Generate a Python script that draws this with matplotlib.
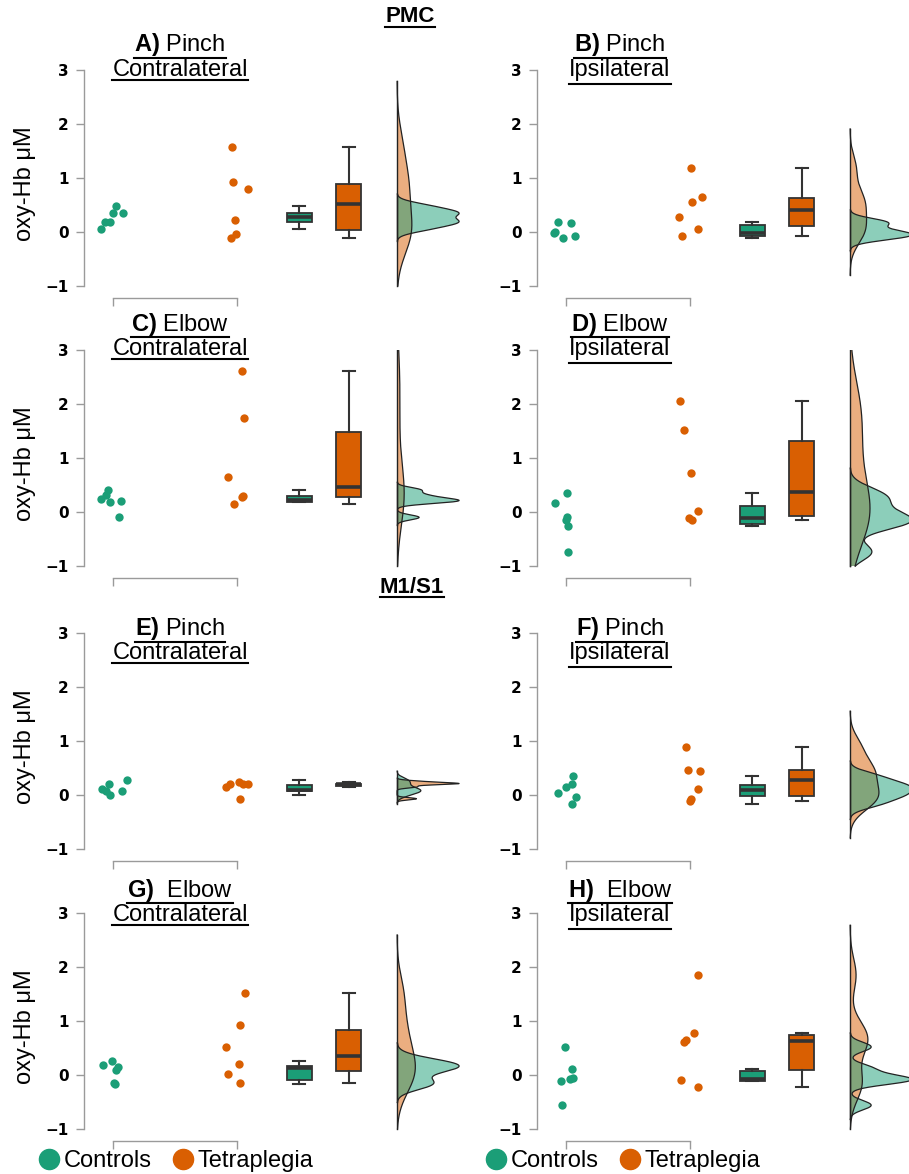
import numpy as np
import matplotlib
matplotlib.use("Agg")
import matplotlib.pyplot as plt
from matplotlib.lines import Line2D

plt.rcParams['mathtext.fontset'] = 'custom'
plt.rcParams['mathtext.bf'] = 'Liberation Sans:bold'
plt.rcParams['mathtext.rm'] = 'Liberation Sans'

GREEN = '#1b9e77'
ORANGE = '#d95f02'
EDGE = '#333333'

# --- data (oxy-Hb, µM); *_jit = horizontal jitter of the dots ---
ctrl_A = [0.06, 0.19, 0.19, 0.35, 0.48, 0.35]
ctrl_A_jit = [-0.094, -0.062, -0.027, -0.005, 0.027, 0.081]
tetra_A = [1.57, 0.93, 0.80, 0.22, -0.03, -0.12]
tetra_A_jit = [-0.038, -0.030, 0.091, -0.016, -0.011, -0.051]

ctrl_B = [0.18, 0.17, -0.02, -0.11, -0.08, 0.00]
ctrl_B_jit = [-0.068, 0.043, -0.095, -0.024, 0.070, -0.090]
tetra_B = [1.18, 0.65, 0.55, 0.28, 0.05, -0.07]
tetra_B_jit = [0.008, 0.092, 0.011, -0.087, 0.062, -0.065]

ctrl_C = [0.41, 0.31, 0.24, 0.19, 0.20, -0.10]
ctrl_C_jit = [-0.038, -0.056, -0.097, -0.022, 0.065, 0.046]
tetra_C = [2.61, 1.75, 0.64, 0.30, 0.27, 0.15]
tetra_C_jit = [0.038, 0.056, -0.070, 0.051, 0.043, -0.024]

ctrl_D = [0.17, 0.35, -0.09, -0.15, -0.25, -0.74]
ctrl_D_jit = [-0.090, 0.003, 0.005, 0.000, 0.019, 0.016]
tetra_D = [2.05, 1.51, 0.73, 0.02, -0.11, -0.14]
tetra_D_jit = [-0.085, -0.050, 0.008, 0.061, -0.011, 0.011]

ctrl_E = [0.28, 0.21, 0.12, 0.07, 0.00, 0.08]
ctrl_E_jit = [0.108, -0.035, -0.086, -0.054, -0.027, 0.073]
tetra_E = [0.15, 0.21, 0.25, 0.21, 0.21, -0.07]
tetra_E_jit = [-0.089, -0.059, 0.013, 0.046, 0.086, 0.027]

ctrl_F = [0.35, 0.20, 0.15, 0.04, -0.03, -0.17]
ctrl_F_jit = [0.059, 0.045, 0.000, -0.067, 0.083, 0.045]
tetra_F = [0.88, 0.46, 0.44, 0.12, -0.07, -0.12]
tetra_F_jit = [-0.035, -0.019, 0.083, 0.067, 0.008, -0.005]

ctrl_G = [0.18, 0.26, 0.15, 0.10, -0.17, -0.15]
ctrl_G_jit = [-0.080, -0.013, 0.040, 0.021, 0.019, 0.010]
tetra_G = [1.52, 0.93, 0.52, 0.20, 0.02, -0.14]
tetra_G_jit = [0.067, 0.027, -0.088, 0.013, -0.075, 0.021]

ctrl_H = [0.52, 0.12, -0.12, -0.08, -0.06, -0.56]
ctrl_H_jit = [-0.013, 0.048, -0.045, 0.035, 0.056, -0.037]
tetra_H = [1.85, 0.77, 0.65, 0.61, -0.09, -0.22]
tetra_H_jit = [0.061, 0.032, -0.032, -0.053, -0.072, 0.067]

title_top = ['A) Pinch', 'B) Pinch', 'C) Elbow', 'D) Elbow',
             'E) Pinch', 'F) Pinch', 'G)  Elbow', 'H)  Elbow']
title_bottom = ['Contralateral', 'Ipsilateral'] * 4
groups = ['Controls', 'Tetraplegia']
yticks = [-1, 0, 1, 2, 3]

panels = [
    (ctrl_A, ctrl_A_jit, tetra_A, tetra_A_jit),
    (ctrl_B, ctrl_B_jit, tetra_B, tetra_B_jit),
    (ctrl_C, ctrl_C_jit, tetra_C, tetra_C_jit),
    (ctrl_D, ctrl_D_jit, tetra_D, tetra_D_jit),
    (ctrl_E, ctrl_E_jit, tetra_E, tetra_E_jit),
    (ctrl_F, ctrl_F_jit, tetra_F, tetra_F_jit),
    (ctrl_G, ctrl_G_jit, tetra_G, tetra_G_jit),
    (ctrl_H, ctrl_H_jit, tetra_H, tetra_H_jit),
]

# --- layout (pixels of a 909x1174 figure) ---
FW, FH = 909, 1174
col_spine_px = [84, 537]
row_top_px = [70, 350, 633, 913]      # where y = 3 sits
title_x_px = [180, 620]
title_y_px = [(45, 70), (325, 349), (629, 653), (890, 915)]
XPX = 124      # px per x unit
YPX = 54       # px per y unit
XMIN, XMAX = 0.765, 3.95
YMIN, YMAX = -1.22, 3.0
BOX_POS = [2.5, 2.9]
VIOLIN_X = 3.29
VIOLIN_W = 0.5


def bw_nrd0(x):
    x = np.asarray(x)
    sd = np.std(x, ddof=1)
    q75, q25 = np.percentile(x, [75, 25])
    lo = min(sd, (q75 - q25) / 1.34)
    if lo <= 0:
        lo = sd
    return 0.9 * lo * len(x) ** -0.2


def kde(x):
    x = np.asarray(x)
    bw = bw_nrd0(x)
    g = np.linspace(max(x.min() - 3 * bw, -1), min(x.max() + 3 * bw, 3), 500)
    d = np.exp(-0.5 * ((g[:, None] - x[None, :]) / bw) ** 2).sum(axis=1)
    d = d / (len(x) * bw * np.sqrt(2 * np.pi))
    return g, d


def fig_xy(px, py):
    return px / FW, 1 - py / FH


fig = plt.figure(figsize=(FW / 100, FH / 100), dpi=100)
title_texts = []

for i, (ctrl, ctrl_jit, tetra, tetra_jit) in enumerate(panels):
    row, col = divmod(i, 2)
    w = (XMAX - XMIN) * XPX
    h = (YMAX - YMIN) * YPX
    left, top = fig_xy(col_spine_px[col], row_top_px[row])
    ax = fig.add_axes([left, top - h / FH, w / FW, h / FH])

    # raw points
    ax.scatter(1 + np.array(ctrl_jit), ctrl, s=36, color=GREEN, lw=0, zorder=3)
    ax.scatter(2 + np.array(tetra_jit), tetra, s=36, color=ORANGE, lw=0, zorder=3)

    # boxes
    bp = ax.boxplot([ctrl, tetra], positions=BOX_POS, widths=0.2, patch_artist=True,
                    showfliers=False, capwidths=0.1,
                    medianprops=dict(color=EDGE, lw=2.6),
                    boxprops=dict(edgecolor=EDGE, lw=1.3),
                    whiskerprops=dict(color=EDGE, lw=1.5),
                    capprops=dict(color=EDGE, lw=1.5))
    for patch, c in zip(bp['boxes'], [GREEN, ORANGE]):
        patch.set_facecolor(c)

    # half violins, scaled so the taller one has fixed width
    g_t, d_t = kde(tetra)
    g_c, d_c = kde(ctrl)
    k = VIOLIN_W / max(d_t.max(), d_c.max())
    ax.fill_betweenx(g_t, VIOLIN_X, VIOLIN_X + d_t * k, facecolor=ORANGE, alpha=0.5,
                     edgecolor='none', zorder=2)
    ax.fill_betweenx(g_c, VIOLIN_X, VIOLIN_X + d_c * k, facecolor=GREEN, alpha=0.5,
                     edgecolor='none', zorder=2)
    for g, d in [(g_t, d_t), (g_c, d_c)]:
        ax.plot(VIOLIN_X + d * k, g, color='#222222', lw=0.9, zorder=2)
        ax.plot([VIOLIN_X, VIOLIN_X], [g[0], g[-1]], color='#222222', lw=1.0, zorder=2)

    ax.set_xlim(XMIN, XMAX)
    ax.set_ylim(YMIN, YMAX)
    for s in ['top', 'right']:
        ax.spines[s].set_visible(False)
    ax.spines['left'].set_bounds(-1, 3)
    ax.spines['bottom'].set_bounds(1, 2)
    for s in ['left', 'bottom']:
        ax.spines[s].set_color('#9a9a9a')
        ax.spines[s].set_linewidth(1.0)
    ax.set_yticks(yticks)
    ax.set_xticks([1, 2])
    ax.set_xticklabels([])
    ax.tick_params(axis='both', colors='#9a9a9a', length=6, width=1.0)
    ax.tick_params(axis='y', labelcolor='black', pad=5)
    for lab in ax.get_yticklabels():
        lab.set_fontweight('bold')
        lab.set_fontsize(11)

    if col == 0:
        fig.text(*fig_xy(25, row_top_px[row] + 2.1 * YPX), 'oxy-Hb μM', rotation=90,
                 ha='center', va='center', fontsize=17, family='Liberation Sans')

    # panel title, two lines
    first, rest = title_top[i].split(')', 1)
    t1 = fig.text(*fig_xy(title_x_px[col], title_y_px[row][0]),
                  r'$\mathbf{' + first + ')}$' + rest,
                  ha='center', va='center', fontsize=17, family='Liberation Sans')
    t2 = fig.text(*fig_xy(title_x_px[col], title_y_px[row][1]), title_bottom[i],
                  ha='center', va='center', fontsize=17, family='Liberation Sans')
    title_texts += [t1, t2]

# region headers
for label, px, py in [('PMC', 410, 17), ('M1/S1', 412, 588)]:
    t = fig.text(*fig_xy(px, py), label, ha='center', va='center', fontsize=16,
                 fontweight='bold', family='Liberation Sans')
    title_texts.append(t)

# legends under each column
handles = [Line2D([], [], ls='none', marker='o', ms=14.5, color=c) for c in [GREEN, ORANGE]]
for cx in [176, 623]:
    fig.legend(handles, groups, loc='center', bbox_to_anchor=fig_xy(cx, 1161), ncol=2,
               frameon=False, handlelength=0.9, handletextpad=0.15, columnspacing=0.9,
               borderpad=0, prop={'family': 'Liberation Sans', 'size': 17})

# underline the titles (below the descenders where there are any)
fig.canvas.draw()
for t in title_texts:
    bb = t.get_window_extent()
    has_desc = any(ch in t.get_text() for ch in 'gjpqy')
    y = (bb.y0 + (-2.5 if has_desc else 1.0)) / FH
    fig.add_artist(Line2D([bb.x0 / FW, bb.x1 / FW], [y, y], color='black', lw=1.5))

fig.savefig('out.png', dpi=100)
